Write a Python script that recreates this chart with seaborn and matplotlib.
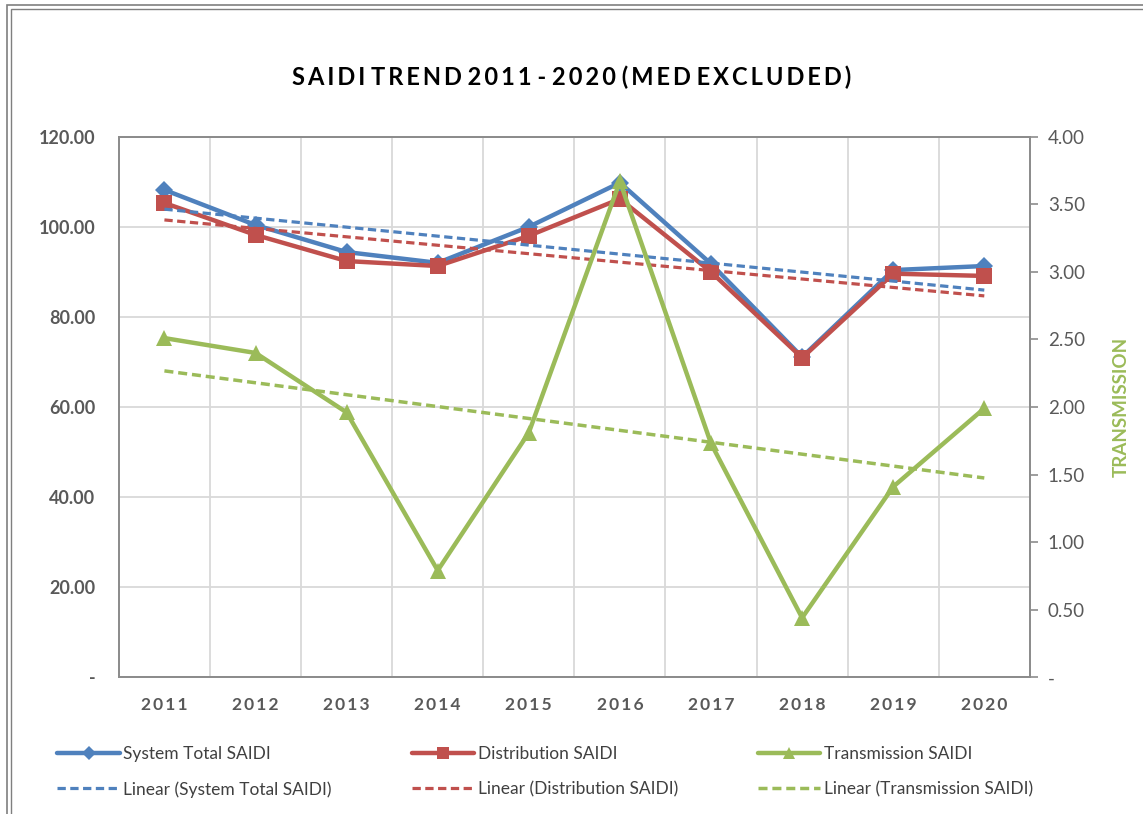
import numpy as np
import pandas as pd
import matplotlib
matplotlib.use("Agg")
import matplotlib.pyplot as plt
import seaborn as sns
from matplotlib.ticker import FuncFormatter, MultipleLocator, FixedLocator
from matplotlib.patches import Rectangle

years = [2011, 2012, 2013, 2014, 2015, 2016, 2017, 2018, 2019, 2020]
system_total = [108.2, 100.4, 94.4, 92.0, 100.0, 109.8, 91.8, 71.1, 90.4, 91.3]
distribution = [105.3, 98.2, 92.4, 91.3, 98.0, 106.2, 90.0, 70.9, 89.6, 89.1]
transmission = [2.51, 2.40, 1.96, 0.79, 1.81, 3.67, 1.73, 0.44, 1.41, 1.99]

BLUE = "#4F81BD"
RED = "#C0504D"
GREEN = "#9BBB59"
GRID = "#D9D9D9"
TXT = "#595959"

df = pd.DataFrame({"year": years, "system": system_total,
                   "dist": distribution, "trans": transmission})

sns.set_theme(style="white")
plt.rcParams["font.family"] = ["Lato", "DejaVu Sans"]

fig = plt.figure(figsize=(11.43, 8.14), dpi=100)
ax = fig.add_axes([0.104, 0.168, 0.797, 0.664])
ax2 = ax.twinx()

dash = (0, (2.6, 1.4))

# main series
sns.lineplot(data=df, x="year", y="system", ax=ax, color=BLUE, linewidth=3.2,
             marker="D", markersize=9, markeredgewidth=0, label="System Total SAIDI")
sns.lineplot(data=df, x="year", y="dist", ax=ax, color=RED, linewidth=3.2,
             marker="s", markersize=11, markeredgewidth=0, label="Distribution SAIDI")
sns.regplot(data=df, x="year", y="system", ax=ax, scatter=False, ci=None,
            color=BLUE, line_kws=dict(ls=dash, lw=2.3),
            label="Linear (System Total SAIDI)")
sns.regplot(data=df, x="year", y="dist", ax=ax, scatter=False, ci=None,
            color=RED, line_kws=dict(ls=dash, lw=2.3),
            label="Linear (Distribution SAIDI)")

sns.lineplot(data=df, x="year", y="trans", ax=ax2, color=GREEN, linewidth=3.2,
             marker="^", markersize=11, markeredgewidth=0, label="Transmission SAIDI")
sns.regplot(data=df, x="year", y="trans", ax=ax2, scatter=False, ci=None,
            color=GREEN, line_kws=dict(ls=dash, lw=2.5),
            label="Linear (Transmission SAIDI)")

ax.set_ylim(0, 120)
ax2.set_ylim(0, 4)
ax.set_xlim(2010.5, 2020.5)

ax.yaxis.set_major_locator(MultipleLocator(20))
ax2.yaxis.set_major_locator(MultipleLocator(0.5))
fmt = FuncFormatter(lambda v, p: "-" if abs(v) < 1e-9 else f"{v:.2f}")
ax.yaxis.set_major_formatter(fmt)
ax2.yaxis.set_major_formatter(fmt)

ax.set_xticks(years)
ax.set_xticklabels(["\u2009".join(str(y)) for y in years])
ax.xaxis.set_minor_locator(FixedLocator([y + 0.5 for y in years[:-1]]))

ax.grid(True, axis="y", color=GRID, lw=1.3)
ax.grid(True, axis="x", which="minor", color=GRID, lw=1.3)
ax.grid(False, axis="x", which="major")
ax2.grid(False)
ax.set_axisbelow(True)

for a in (ax, ax2):
    for s in a.spines.values():
        s.set_color("#8C8C8C")
        s.set_linewidth(1.3)
    a.set_xlabel("")

ax.set_ylabel("")
ax2.set_ylabel("TRANSMISSION", color=GREEN, fontsize=13.5, fontweight="bold", labelpad=20)

ax.tick_params(axis="y", labelsize=13, labelcolor=TXT, length=0, pad=17)
for t in ax.get_yticklabels():
    t.set_fontweight("bold")
ax.tick_params(axis="x", labelsize=12.5, labelcolor=TXT, length=0, pad=14)
for t in ax.get_xticklabels():
    t.set_fontweight("bold")
ax2.tick_params(axis="y", labelsize=13.5, labelcolor=TXT, length=6, width=1.2,
                color="#8C8C8C", pad=7)

title = "SAIDI TREND 2011 - 2020 (MED EXCLUDED)"
fig.text(0.5, 0.905, "\u2009".join(title).replace("\u2009 \u2009", " "),
         ha="center", va="center", fontsize=17, fontweight="bold", color="black")

# combined legend, row-wise order
h1, l1 = ax.get_legend_handles_labels()
h2, l2 = ax2.get_legend_handles_labels()
hd = dict(zip(l1 + l2, h1 + h2))
order = ["System Total SAIDI", "Linear (System Total SAIDI)",
         "Distribution SAIDI", "Linear (Distribution SAIDI)",
         "Transmission SAIDI", "Linear (Transmission SAIDI)"]
for a in (ax, ax2):
    if a.get_legend() is not None:
        a.get_legend().remove()
fig.legend([hd[k] for k in order], order, ncol=3, loc="center",
           bbox_to_anchor=(0.477, 0.052), frameon=False, fontsize=12.5,
           handlelength=3.6, handletextpad=0.2, columnspacing=4.6,
           labelspacing=1.1, labelcolor="#404040", markerscale=0.8)

# double frame like the chart area border
fig.patches.append(Rectangle((0.006, -0.01), 1.1, 1.004, transform=fig.transFigure,
                             fill=False, edgecolor="#7F7F7F", lw=1.2))
fig.patches.append(Rectangle((0.0095, -0.01), 1.1, 0.9985, transform=fig.transFigure,
                             fill=False, edgecolor="#7F7F7F", lw=1.0))

fig.savefig("out.png", dpi=100)
